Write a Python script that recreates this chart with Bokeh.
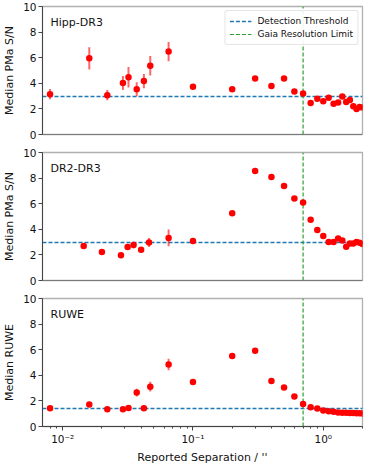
import numpy as np
from bokeh.plotting import figure
from bokeh.layouts import column
from bokeh.models import (Range1d, FixedTicker, LogTicker, CustomJSTickFormatter,
                          Label, Span, ColumnDataSource)
from bokeh.embed import file_html
from bokeh.resources import INLINE

# ---------------- data ----------------
hipp_sep = [0.008, 0.016, 0.022, 0.029, 0.032, 0.037, 0.042, 0.047, 0.065, 0.1,
            0.2, 0.3, 0.4, 0.5, 0.6, 0.7, 0.8, 0.9, 1.0, 1.1, 1.2, 1.3, 1.4,
            1.5, 1.6, 1.7, 1.8, 1.9, 2.0]
hipp_snr = [3.15, 5.95, 3.07, 4.03, 4.48, 3.54, 4.17, 5.37, 6.48, 3.74,
            3.54, 4.38, 3.78, 4.38, 3.35, 3.2, 2.46, 2.79, 2.6, 2.87, 2.41, 2.5, 2.97,
            2.54, 2.69, 2.2, 2.0, 2.15, 2.1]
hipp_err = [0.4, 0.87, 0.4, 0.55, 0.8, 0.55, 0.55, 0.77, 0.75, 0.1,
            0.1, 0.1, 0.1, 0.1, 0.1, 0.1, 0.1, 0.1, 0.1, 0.1, 0.1, 0.1, 0.1,
            0.1, 0.1, 0.1, 0.1, 0.1, 0.1]

dr2_sep = [0.0145, 0.020, 0.028, 0.0315, 0.035, 0.040, 0.046, 0.065, 0.1,
           0.2, 0.3, 0.4, 0.5, 0.6, 0.7, 0.8, 0.9, 1.0, 1.1, 1.2, 1.3, 1.4,
           1.5, 1.6, 1.7, 1.8, 1.9, 2.0]
dr2_snr = [2.69, 2.23, 1.97, 2.62, 2.77, 2.41, 2.97, 3.33, 3.08,
           5.26, 8.56, 8.08, 7.38, 6.41, 6.1, 4.74, 3.95, 3.48, 3.0, 3.0, 3.28, 3.12,
           2.64, 2.9, 2.9, 3.0, 2.95, 2.85]
dr2_err = [0.2, 0.1, 0.1, 0.15, 0.25, 0.15, 0.35, 0.65, 0.1,
           0.1, 0.1, 0.1, 0.1, 0.1, 0.1, 0.1, 0.1, 0.1, 0.1, 0.1, 0.1, 0.1,
           0.1, 0.1, 0.1, 0.1, 0.1, 0.1]

ruwe_sep = [0.008, 0.016, 0.022, 0.029, 0.032, 0.037, 0.042, 0.047, 0.065, 0.1,
            0.2, 0.3, 0.4, 0.5, 0.6, 0.7, 0.8, 0.9, 1.0, 1.1, 1.2, 1.3, 1.4,
            1.5, 1.6, 1.7, 1.8, 1.9, 2.0]
ruwe_val = [1.43, 1.71, 1.35, 1.35, 1.45, 2.65, 1.43, 3.11, 4.85, 3.47,
            5.51, 5.92, 3.55, 3.04, 2.35, 1.76, 1.5, 1.4, 1.25, 1.2, 1.15, 1.1, 1.08,
            1.08, 1.05, 1.05, 1.03, 1.03, 1.02]
ruwe_err = [0.08, 0.08, 0.08, 0.08, 0.08, 0.3, 0.08, 0.38, 0.45, 0.08,
            0.08, 0.08, 0.08, 0.08, 0.08, 0.08, 0.05, 0.05, 0.05, 0.05, 0.05, 0.05, 0.05,
            0.05, 0.05, 0.05, 0.05, 0.05, 0.05]

panel_tags = ["Hipp-DR3", "DR2-DR3", "RUWE"]
y_labels = ["Median PMa S/N", "Median PMa S/N", "Median RUWE"]
thresholds = [3.0, 3.0, 1.4]
resolution_limit = 0.7
x_label = "Reported Separation / ''"
x_lim = (0.007, 2.0)
y_lim = (0, 10)
y_ticks = [0, 2, 4, 6, 8, 10]
legend_labels = ["Detection Threshold", "Gaia Resolution Limit"]

# ---------------- styling ----------------
FONT = "DejaVu Sans"
BLUE = "#1f77b4"
GREEN = "#2ca02c"
FW, FH = 320, 128

x_range = Range1d(*x_lim)

sup_fmt = CustomJSTickFormatter(code=r"""
const e = Math.round(Math.log10(tick));
const m = {'-':'\u207b','0':'\u2070','1':'\u00b9','2':'\u00b2','3':'\u00b3',
           '4':'\u2074','5':'\u2075','6':'\u2076','7':'\u2077','8':'\u2078','9':'\u2079'};
return '10' + String(e).split('').map(c => m[c]).join('');
""")


def make_panel(sep, val, err, tag, ylabel, thr, first, last):
    p = figure(x_axis_type="log", x_range=x_range, y_range=Range1d(*y_lim),
               frame_width=FW, frame_height=FH, output_backend="svg",
               toolbar_location=None,
               min_border_left=35, min_border_right=3,
               min_border_top=6 if first else 9,
               min_border_bottom=9)
    p.background_fill_color = "white"
    p.border_fill_color = "white"
    p.grid.visible = False
    p.outline_line_color = "#b0b0b0"
    p.outline_line_width = 1.3

    v = np.array(val)
    e = np.array(err)
    src = ColumnDataSource(dict(x=sep, y=v, lo=v - e, hi=v + e))

    hkw = dict(line_color=BLUE, line_width=1.3, line_dash="4 2")
    vkw = dict(line_color=GREEN, line_width=1.2, line_dash="4 2")
    vsrc = ColumnDataSource(dict(x=[resolution_limit], y0=[y_lim[0]], y1=[y_lim[1]]))
    if first:
        p.hspan(y=[thr], legend_label=legend_labels[0], **hkw)
        p.segment(x0="x", x1="x", y0="y0", y1="y1", source=vsrc,
                  legend_label=legend_labels[1], **vkw)
    else:
        p.hspan(y=[thr], **hkw)
        p.segment(x0="x", x1="x", y0="y0", y1="y1", source=vsrc, **vkw)

    p.segment(x0="x", y0="lo", x1="x", y1="hi", source=src,
              line_color="red", line_alpha=0.6, line_width=2)
    p.scatter("x", "y", source=src, size=6.5, fill_color="red",
              line_color="red", line_width=0)

    if first:
        lg = p.legend[0]
        lg.location = "top_right"
        lg.label_text_font = FONT
        lg.label_text_font_size = "9px"
        lg.label_text_color = "#111111"
        lg.glyph_width = 22
        lg.glyph_height = 12
        lg.label_height = 12
        lg.label_standoff = 6
        lg.spacing = 1
        lg.padding = 4
        lg.margin = 4
        lg.border_line_color = "#cccccc"
        lg.border_radius = 3
        lg.background_fill_alpha = 0.9

    p.add_layout(Label(x=8, y=FH - 16, x_units="screen", y_units="screen",
                       text=tag, text_font=FONT, text_font_size="11px",
                       text_baseline="middle", text_color="#111111"))

    ya = p.yaxis[0]
    ya.ticker = FixedTicker(ticks=y_ticks)
    ya.axis_label = ylabel
    ya.axis_label_text_font = FONT
    ya.axis_label_text_font_size = "11px"
    ya.axis_label_text_font_style = "normal"
    ya.axis_label_text_color = "#111111"
    ya.axis_label_standoff = 4
    ya.major_label_text_font = FONT
    ya.major_label_text_font_size = "10.5px"
    ya.major_label_text_color = "#111111"
    ya.major_label_standoff = 2
    ya.major_tick_in = 0
    ya.major_tick_out = 4
    ya.minor_tick_out = 0
    ya.minor_tick_in = 0
    ya.axis_line_color = "#444444"
    ya.major_tick_line_color = "#444444"

    xa = p.xaxis[0]
    if last:
        xa.ticker = LogTicker(num_minor_ticks=10)
        xa.formatter = sup_fmt
        xa.axis_label = x_label
        xa.axis_label_text_font = FONT
        xa.axis_label_text_font_size = "11px"
        xa.axis_label_text_font_style = "normal"
        xa.axis_label_text_color = "#111111"
        xa.axis_label_standoff = 3
        xa.major_label_text_font = FONT
        xa.major_label_text_font_size = "10.5px"
        xa.major_label_text_color = "#111111"
        xa.major_label_standoff = 2
        xa.major_tick_in = 0
        xa.major_tick_out = 4
        xa.minor_tick_in = 0
        xa.minor_tick_out = 2
        xa.axis_line_color = "#444444"
        xa.major_tick_line_color = "#444444"
        xa.minor_tick_line_color = "#444444"
    else:
        xa.visible = False
        p.add_layout(Span(location=y_lim[0], dimension="width",
                          line_color="#444444", line_width=1))
    return p


panels = []
data = [(hipp_sep, hipp_snr, hipp_err), (dr2_sep, dr2_snr, dr2_err),
        (ruwe_sep, ruwe_val, ruwe_err)]
for i, (s, v, e) in enumerate(data):
    panels.append(make_panel(s, v, e, panel_tags[i], y_labels[i], thresholds[i],
                             first=(i == 0), last=(i == 2)))

layout = column(*panels, spacing=0)
open("out.html", "w").write(file_html(layout, INLINE))
